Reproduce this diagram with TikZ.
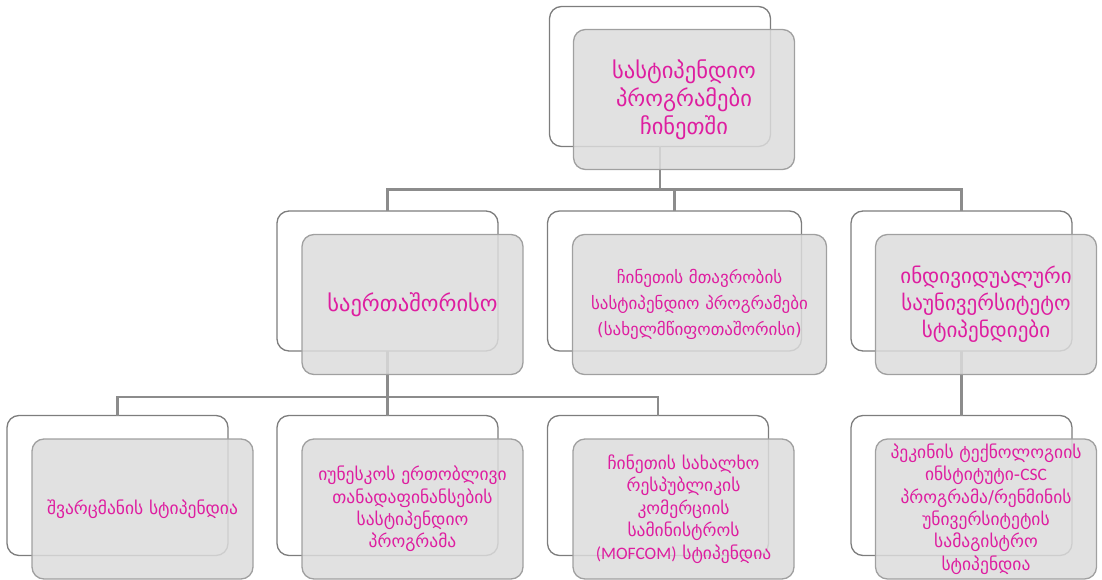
\documentclass[tikz,border=0pt]{standalone}
\usepackage{fontspec}
\setmainfont{DejaVu Sans}
\newfontfamily\latinfont{Carlito}
\definecolor{txt}{RGB}{222,30,160}
\definecolor{backline}{RGB}{125,125,125}
\definecolor{frontline}{RGB}{160,160,160}
\definecolor{frontfill}{RGB}{220,220,220}
\definecolor{connline}{RGB}{140,140,140}
\begin{document}
\begin{tikzpicture}[x=1pt,y=-1pt,
  backbox/.style={draw=backline, line width=1.3pt, fill=white, rounded corners=12pt,
    minimum width=221pt, minimum height=140pt, inner sep=0pt, outer sep=0pt},
  frontbox/.style={draw=frontline, line width=1.3pt, fill=frontfill, fill opacity=0.85,
    text opacity=1, rounded corners=12pt, minimum width=221pt, minimum height=140pt,
    inner sep=2pt, outer sep=0pt, text=txt, align=center, text width=215pt},
  conn/.style={draw=connline, line width=2.2pt},
  big/.style={font=\fontsize{22.5pt}{28pt}\selectfont},
  mid/.style={font=\fontsize{17pt}{26pt}\selectfont},
  small/.style={font=\fontsize{17.5pt}{22.4pt}\selectfont}]
\useasboundingbox (0,0) rectangle (1102,580);
% back boxes
\node[backbox] (tb) at (660,76.5) {};
\node[backbox] (c1b) at (387.5,281) {};
\node[backbox, minimum width=254pt] (c2b) at (674.5,281) {};
\node[backbox] (c3b) at (961.5,281) {};
\node[backbox] (g1b) at (117.5,485.5) {};
\node[backbox] (g2b) at (387.5,485.5) {};
\node[backbox] (g3b) at (658,485.5) {};
\node[backbox] (g4b) at (961.5,485.5) {};
% connectors
\draw[conn] (tb.south) -- ++(0,43) -| (c1b.north);
\draw[conn] (tb.south) -- ++(0,43) -| (c2b.north);
\draw[conn] (tb.south) -- ++(0,43) -| (c3b.north);
\draw[conn] (c1b.south) -- ++(0,46) -| (g1b.north);
\draw[conn] (c1b.south) -- ++(0,46) -| (g2b.north);
\draw[conn] (c1b.south) -- ++(0,46) -| (g3b.north);
\draw[conn] (c3b.south) -- (g4b.north);
% front boxes
\node[frontbox, big] (tf) at (684,99.5) {სასტიპენდიო\\პროგრამები\\ჩინეთში};
\node[frontbox, big] (c1f) at (412.5,304.5) {საერთაშორისო};
\node[frontbox, mid, minimum width=254pt, text width=248pt] (c2f) at (699.5,304.5) {ჩინეთის მთავრობის\\სასტიპენდიო პროგრამები\\(სახელმწიფოთაშორისი)};
\node[frontbox, font=\fontsize{21pt}{27pt}\selectfont] (c3f) at (986,304.5) {ინდივიდუალური\\საუნივერსიტეტო\\სტიპენდიები};
\node[frontbox, small] (g1f) at (142.5,509) {შვარცმანის სტიპენდია};
\node[frontbox, small] (g2f) at (412.5,509) {იუნესკოს ერთობლივი\\თანადაფინანსების\\სასტიპენდიო\\პროგრამა};
\node[frontbox, small] (g3f) at (683.5,509) {ჩინეთის სახალხო\\რესპუბლიკის\\კომერციის\\სამინისტროს\\{\latinfont (MOFCOM)} სტიპენდია};
\node[frontbox, small] (g4f) at (986,509) {პეკინის ტექნოლოგიის\\ინსტიტუტი-{\latinfont CSC}\\პროგრამა/რენმინის\\უნივერსიტეტის\\სამაგისტრო\\სტიპენდია};
\end{tikzpicture}
\end{document}
